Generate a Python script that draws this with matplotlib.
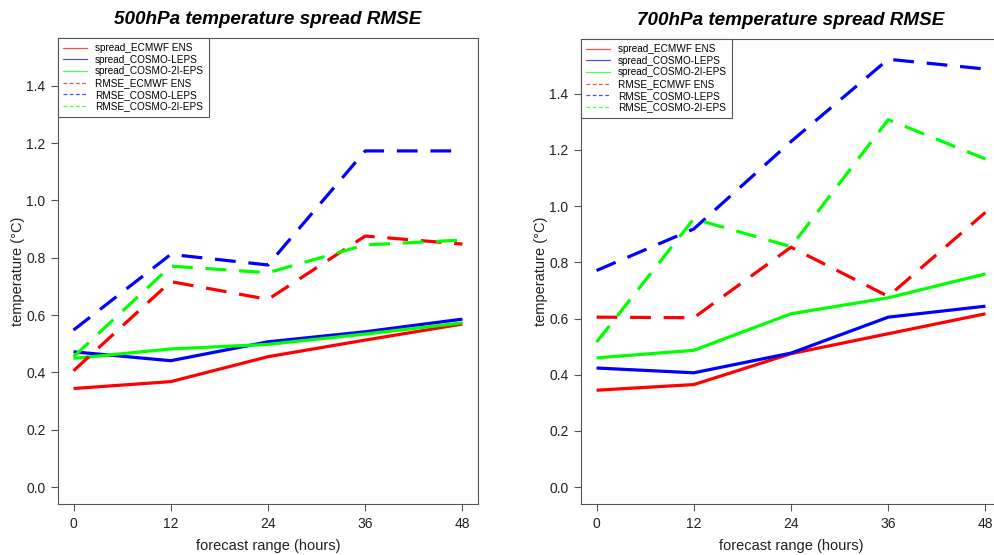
import matplotlib
matplotlib.use('Agg')
import matplotlib.pyplot as plt
from matplotlib.lines import Line2D

plt.rcParams['font.family'] = ['Liberation Sans', 'DejaVu Sans']

hours = [0, 12, 24, 36, 48]
series_names = ['spread_ECMWF ENS', 'spread_COSMO-LEPS', 'spread_COSMO-2I-EPS',
                'RMSE_ECMWF ENS', 'RMSE_COSMO-LEPS', 'RMSE_COSMO-2I-EPS']

# 500 hPa
spread_ecmwf_500 = [0.344, 0.368, 0.455, 0.513, 0.569]
spread_leps_500 = [0.472, 0.441, 0.507, 0.542, 0.586]
spread_2i_500 = [0.449, 0.482, 0.498, 0.534, 0.573]
rmse_ecmwf_500 = [0.406, 0.717, 0.655, 0.876, 0.848]
rmse_leps_500 = [0.548, 0.812, 0.775, 1.173, 1.173]
rmse_2i_500 = [0.455, 0.771, 0.748, 0.845, 0.862]

# 700 hPa
spread_ecmwf_700 = [0.345, 0.365, 0.475, 0.546, 0.617]
spread_leps_700 = [0.424, 0.407, 0.477, 0.605, 0.644]
spread_2i_700 = [0.460, 0.487, 0.617, 0.674, 0.759]
rmse_ecmwf_700 = [0.605, 0.603, 0.854, 0.679, 0.978]
rmse_leps_700 = [0.771, 0.919, 1.230, 1.523, 1.488]
rmse_2i_700 = [0.516, 0.955, 0.856, 1.308, 1.168]

farbe = ['#ff0000', '#0000ff', '#00ff00']
W, H = 995, 555

fig = plt.figure(figsize=(W / 100, H / 100), dpi=100)


def panel(rect, ylim, naslov, podatki):
    ax = fig.add_axes(rect)
    spread, rmse = podatki[:3], podatki[3:]
    for vals, c in zip(spread, farbe):
        ax.plot(hours, vals, color=c, lw=2.3, solid_capstyle='butt')
    for vals, c in zip(rmse, farbe):
        ax.plot(hours, vals, color=c, lw=2.3, dashes=(6.5, 4), dash_capstyle='butt')

    ax.set_xlim(-1.92, 49.92)
    ax.set_ylim(*ylim)
    ax.set_xticks(hours)
    ax.set_yticks([0, 0.2, 0.4, 0.6, 0.8, 1.0, 1.2, 1.4])
    ax.set_yticklabels(['%.1f' % v for v in ax.get_yticks()])
    ax.tick_params(direction='out', length=5, width=0.8, color='#555555',
                   labelsize=10, labelcolor='#222222', pad=4)
    for s in ax.spines.values():
        s.set_color('#555555')
        s.set_linewidth(0.8)
    ax.set_xlabel('forecast range (hours)', fontsize=10.5, color='#222222', labelpad=6)
    ax.set_ylabel('temperature (°C)', fontsize=10.5, color='#222222', labelpad=1)
    ax.set_title(naslov, fontsize=13.6, fontweight='bold', style='italic', pad=10)

    # legenda: tanke črte
    handles = [Line2D([], [], color=c, lw=0.9, alpha=0.7) for c in farbe]
    handles += [Line2D([], [], color=c, lw=0.9, alpha=0.7, dashes=(3, 2)) for c in farbe]
    leg = ax.legend(handles, series_names, loc='upper left', bbox_to_anchor=(0, 1),
                    borderaxespad=0, fontsize=7.2, handlelength=2.4, handletextpad=0.8,
                    labelspacing=0.17, borderpad=0.5, fancybox=False, framealpha=1,
                    edgecolor='#555555')
    leg.get_frame().set_linewidth(0.8)
    return ax


panel([58 / W, 1 - 504 / H, 420 / W, 466 / H], (-0.059, 1.567),
      '500hPa temperature spread RMSE',
      [spread_ecmwf_500, spread_leps_500, spread_2i_500,
       rmse_ecmwf_500, rmse_leps_500, rmse_2i_500])

panel([581 / W, 1 - 504 / H, 420 / W, 465 / H], (-0.06, 1.595),
      '700hPa temperature spread RMSE',
      [spread_ecmwf_700, spread_leps_700, spread_2i_700,
       rmse_ecmwf_700, rmse_leps_700, rmse_2i_700])

plt.savefig('out.png', dpi=100)
